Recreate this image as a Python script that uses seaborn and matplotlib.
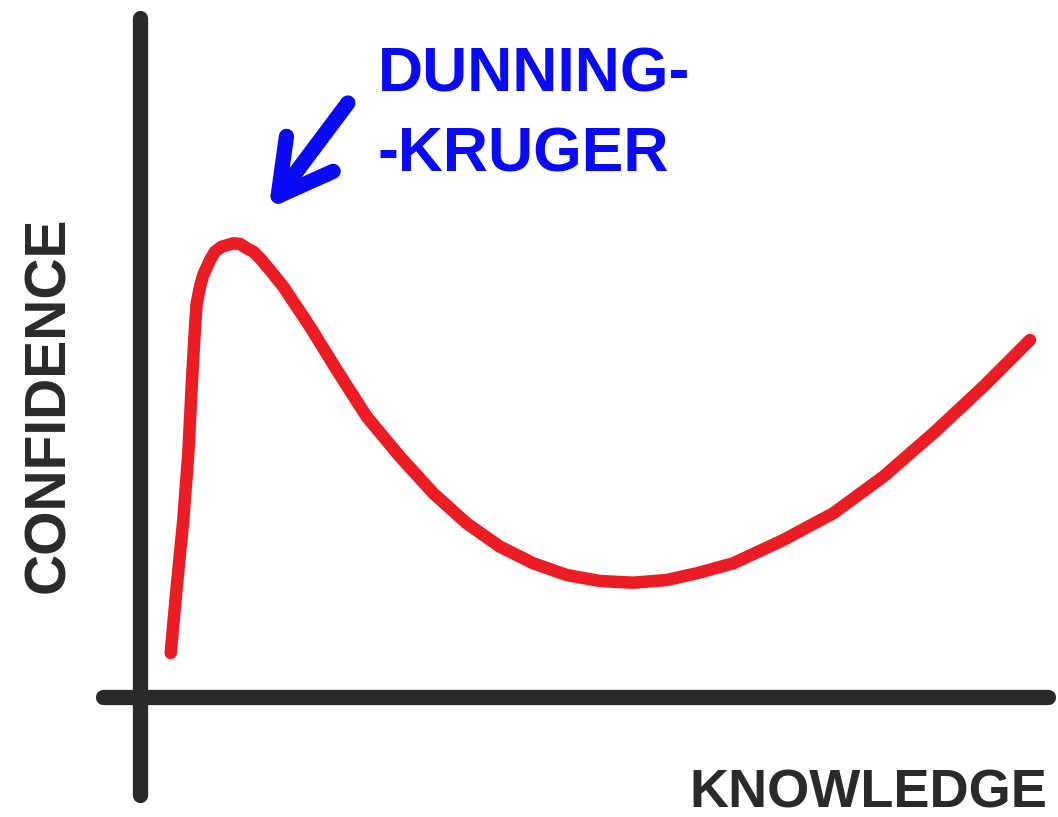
import matplotlib
matplotlib.use("Agg")
import matplotlib.pyplot as plt
import seaborn as sns
import pandas as pd

# curve (knowledge 0-100, confidence 0-100)
knowledge = [3.41, 4.08, 4.81, 5.37, 5.74, 6.11, 6.30, 6.67, 7.03, 7.78, 8.33,
             9.08, 10.37, 11.11, 11.86, 12.59, 13.33, 14.44, 15.92, 18.89,
             21.86, 25.19, 28.89, 32.59, 36.30, 40.0, 43.70, 47.41, 51.11,
             54.81, 58.52, 61.86, 65.92, 71.48, 77.03, 82.59, 88.14, 93.70,
             98.89]
confidence = [9.78, 24.51, 39.33, 54.22, 68.96, 82.29, 87.49, 91.18, 93.78,
              97.11, 98.96, 100.07, 100.82, 100.67, 99.71, 98.96, 97.49, 94.89,
              91.18, 82.29, 72.67, 62.29, 53.4, 45.27, 38.6, 33.4, 29.71, 27.11,
              25.78, 25.4, 26.0, 27.49, 29.71, 34.89, 40.82, 48.96, 58.6, 68.96,
              79.33]

peak_label = ["DUNNING-", "-KRUGER"]
x_label = "KNOWLEDGE"
y_label = "CONFIDENCE"

df = pd.DataFrame({"knowledge": knowledge, "confidence": confidence})

sns.set_theme(style="white")
plt.rcParams["font.family"] = ["Liberation Sans", "DejaVu Sans"]

fig = plt.figure(figsize=(10.58, 8.17), dpi=100)
ax = fig.add_axes([0, 0, 1, 1])
ax.set_xlim(-140 / 9, (1058 - 140) / 9)
ax.set_ylim(-120 / 4.5, 697 / 4.5)
ax.axis("off")

ink = "#2a2a2a"
# hand drawn axes
ax.plot([0, 0], [-21.8, 150.9], color=ink, lw=11, solid_capstyle="round")
ax.plot([-4.1, 100.9], [0, 0], color=ink, lw=11, solid_capstyle="round")

sns.lineplot(data=df, x="knowledge", y="confidence", ax=ax, color="#ec1c24",
             linewidth=9, solid_capstyle="round", solid_joinstyle="round")

# arrow pointing at the peak
blue = "#0a0af5"
ax.annotate("", xy=(14.3, 108.5), xytext=(23.1, 132.0),
            arrowprops=dict(arrowstyle="->, head_length=1.9, head_width=1.05",
                            color=blue, lw=11, mutation_scale=20,
                            shrinkA=0, shrinkB=0,
                            capstyle="round", joinstyle="round"))

fig.text(378 / 1058, 1 - 92 / 817, peak_label[0], color=blue, fontsize=45,
         fontweight="bold", ha="left", va="baseline")
fig.text(378 / 1058, 1 - 171 / 817, peak_label[1], color=blue, fontsize=45,
         fontweight="bold", ha="left", va="baseline")

fig.text(1047 / 1058, 1 - 807 / 817, x_label, color=ink, fontsize=39,
         fontweight="bold", ha="right", va="baseline")
fig.text(49 / 1058, 1 - 405 / 817, y_label, color=ink, fontsize=41,
         fontweight="bold", ha="center", va="center", rotation=90)

fig.savefig("out.png", dpi=100, facecolor="white")
